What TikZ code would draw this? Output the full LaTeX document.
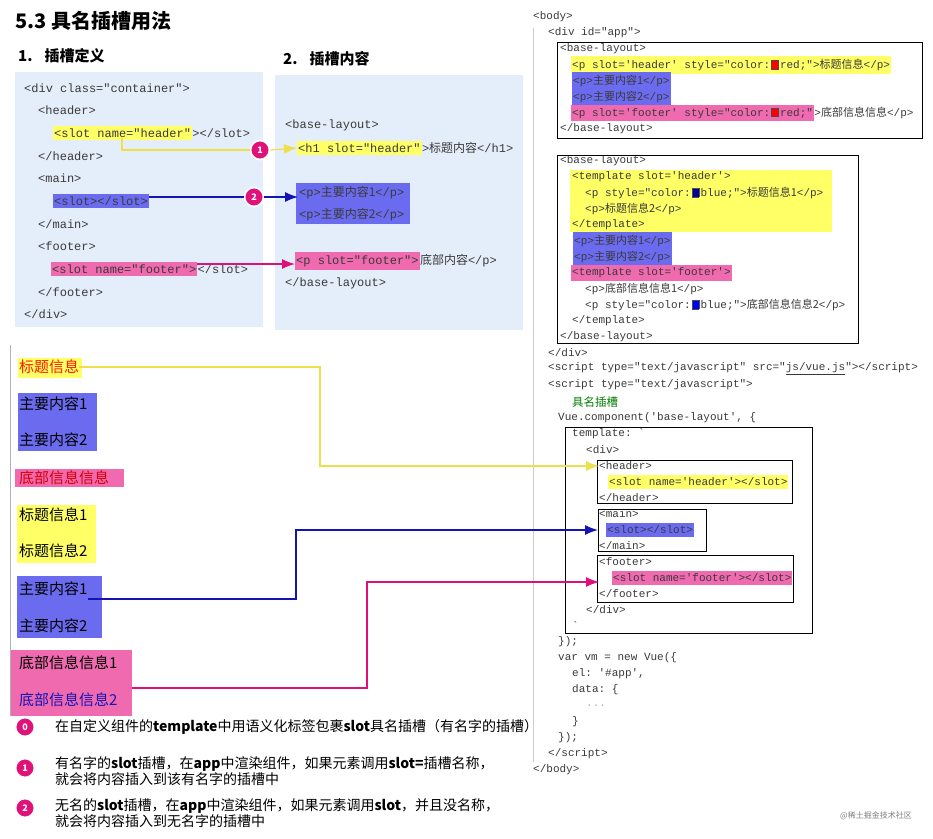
\documentclass[tikz,border=0pt]{standalone}
\usepackage{fontspec}
\setmainfont{Noto Sans CJK SC}
\setmonofont{Liberation Mono}
\usetikzlibrary{arrows.meta}
\newcommand\zz[1]{{\rmfamily #1}}
\newcommand\sq[1]{\hspace{1pt}{\setlength\fboxsep{0pt}\setlength\fboxrule{0.4pt}\fcolorbox{black!70}{#1}{\rule{0pt}{8pt}\hspace{6.5pt}}}\hspace{1.5pt}}
\definecolor{hy}{HTML}{FFFF66}
\definecolor{hb}{HTML}{6B6BF0}
\definecolor{hp}{HTML}{F06AB0}
\definecolor{panel}{HTML}{E4EDFA}
\definecolor{codec}{HTML}{3A3A3A}
\definecolor{ay}{HTML}{EEE04A}
\definecolor{ab}{HTML}{1414B4}
\definecolor{ap}{HTML}{E0107A}
\definecolor{badge}{HTML}{E0127A}
\tikzset{
 code/.style={anchor=west,inner sep=0pt,font=\ttfamily\fontsize{11}{11}\selectfont,text=codec},
 lcode/.style={anchor=west,inner sep=0pt,font=\ttfamily\fontsize{12}{12}\selectfont,text=codec},
 hl/.style={fill=#1,inner xsep=1pt,inner ysep=3pt},
 badgec/.style={circle,fill=badge,draw=white,line width=1.8pt,text=white,font=\bfseries\fontsize{9}{9}\selectfont,minimum size=19pt,inner sep=0pt},
 item/.style={anchor=west,inner sep=0pt,font=\fontsize{15}{15}\selectfont},
 note/.style={anchor=west,inner sep=0pt,font=\fontsize{14}{16}\selectfont,align=left},
 frame/.style={draw=black,line width=1pt},
 conn/.style={line width=1.2pt},
 tip/.style={-{Latex[length=13pt,width=10pt]}}
}
\begin{document}
\begin{tikzpicture}[x=1pt,y=-1pt]
\useasboundingbox (0,0) rectangle (933,838);
\fill[white] (0,0) rectangle (933,838);
% titles
\node[anchor=west,inner sep=0pt,font=\bfseries\fontsize{20}{20}\selectfont] (title) at (15,21) {5.3 具名插槽用法};
\node[anchor=west,inner sep=0pt,font=\bfseries\fontsize{15}{15}\selectfont] (t1) at (18,56) {1.\hspace{12pt}插槽定义};
\node[anchor=west,inner sep=0pt,font=\bfseries\fontsize{15}{15}\selectfont] (t2) at (283,59) {2.\hspace{12pt}插槽内容};
% panels
\fill[panel] (15,72) rectangle (263,327);
\fill[panel] (275,75) rectangle (523,330);
% left panel code
\node[lcode] (l1) at (24,88) {<div class="container">};
\node[lcode] (l2) at (38,110) {<header>};
\node[lcode,hl=hy] (l3a) at (53,133) {<slot name="header"};
\node[lcode,anchor=west] (l3b) at (l3a.east) {></slot>};
\node[lcode] (l4) at (38,156) {</header>};
\node[lcode] (l5) at (38,178) {<main>};
\node[lcode,hl=hb] (l6) at (53,201) {<slot></slot>};
\node[lcode] (l7) at (38,224) {</main>};
\node[lcode] (l8) at (38,246) {<footer>};
\node[lcode,hl=hp] (l9a) at (51,269) {<slot name="footer">};
\node[lcode,anchor=west] (l9b) at (l9a.east) {</slot>};
\node[lcode] (l10) at (38,292) {</footer>};
\node[lcode] (l11) at (24,314) {</div>};
% right panel code
\node[lcode] (r1) at (285,125) {<base-layout>};
\node[lcode,hl=hy] (r2a) at (297,148) {<h1 slot="header"};
\node[lcode] (r2b) at (r2a.east) {>\zz{标题内容}</h1>};
\fill[hb] (296,183) rectangle (410,224);
\node[lcode] (r3) at (299,193) {<p>\zz{主要内容1}</p>};
\node[lcode] (r4) at (299,215) {<p>\zz{主要内容2}</p>};
\node[lcode,hl=hp] (r5a) at (295,261) {<p slot="footer">};
\node[lcode] (r5b) at (r5a.east) {\zz{底部内容}</p>};
\node[lcode] (r6) at (285,283) {</base-layout>};
% top connectors
\node[badgec] (b1) at (260,150) {1};
\node[badgec] (b2) at (254,197) {2};
\draw[ay,conn] (122,138) |- (b1.west);
\draw[ay,conn,tip] (b1.east) -- (r2a.west);
\draw[ab,conn] (l6.east |- b2.west) -- (b2.west);
\draw[ab,conn,tip] (b2.east) -- (298,197);
\draw[ap,conn,tip] (l9a.east |- 0,264) -- (r5a.west |- 0,264);
% lower-left rendered output
\draw[gray!60,line width=0.8pt] (10,345) -- (10,716);
\fill[hy] (18,358) rectangle (82,378);
\node[item,text=red!80!orange] (o1) at (19,367) {标题信息};
\fill[hb] (18,393) rectangle (97,451);
\node[item] (o2) at (19,404) {主要内容1};
\node[item] (o3) at (19,440) {主要内容2};
\fill[hp] (15,469) rectangle (124,487);
\node[item,text=red!85!black] (o4) at (19,478) {底部信息信息};
\fill[hy] (17,505) rectangle (96,563);
\node[item] (o5) at (19,515) {标题信息1};
\node[item] (o6) at (19,551) {标题信息2};
\fill[hb] (17,576) rectangle (102,638);
\node[item] (o7) at (19,589) {主要内容1};
\node[item] (o8) at (19,626) {主要内容2};
\fill[hp] (11,650) rectangle (132,716);
\node[item] (o9) at (19,663) {底部信息信息1};
\node[item,text=ab] (o10) at (19,700) {底部信息信息2};
% code panel on the right
\draw[gray!40,line width=0.6pt] (533,28) -- (533,762);
\node[code] (c1) at (533,17) {<body>};
\node[code] (c2) at (548,33) {<div id="app">};
\node[code] (c3) at (560,49) {<base-layout>};
\node[code,hl=hy] (c4) at (571,65) {<p slot='header' style="color:\sq{red}red;">\zz{标题信息}</p>};
\node[code,hl=hb] (c5) at (572,81) {<p>\zz{主要内容1}</p>};
\node[code,hl=hb] (c6) at (572,97) {<p>\zz{主要内容2}</p>};
\node[code,hl=hp] (c7a) at (571,113) {<p slot='footer' style="color:\sq{red}red;"};
\node[code] (c7b) at (c7a.east) {>\zz{底部信息信息}</p>};
\node[code] (c8) at (560,129) {</base-layout>};
\draw[frame] (557,42) rectangle (922,138);
\fill[hy] (570,170) rectangle (832,232);
\node[code] (d1) at (560,161) {<base-layout>};
\node[code] (d2) at (572,177) {<template slot='header'>};
\node[code] (d3) at (585,193) {<p style="color:\sq{blue!60!black}blue;">\zz{标题信息1}</p>};
\node[code] (d4) at (585,209) {<p>\zz{标题信息2}</p>};
\node[code] (d5) at (572,225) {</template>};
\node[code,hl=hb] (d6) at (573,241) {<p>\zz{主要内容1}</p>};
\node[code,hl=hb] (d7) at (573,257) {<p>\zz{主要内容2}</p>};
\node[code,hl=hp] (d8) at (571,273) {<template slot='footer'>};
\node[code] (d9) at (585,289) {<p>\zz{底部信息信息1}</p>};
\node[code] (d10) at (585,305) {<p style="color:\sq{blue}blue;">\zz{底部信息信息2}</p>};
\node[code] (d11) at (572,321) {</template>};
\node[code] (d12) at (560,337) {</base-layout>};
\draw[frame] (557,155) rectangle (858,343);
\node[code] (e1) at (548,353) {</div>};
\node[code] (e2) at (548,369) {<script type="text/javascript" src="\underline{js/vue.js}"></script>};
\node[code] (e3) at (548,385) {<script type="text/javascript">};
\node[anchor=west,inner sep=0pt,font=\fontsize{11.5}{11.5}\selectfont,text=green!50!black] (e4) at (572,402) {具名插槽};
\node[code] (e5) at (558,418) {Vue.component('base-layout', \{};
\node[code] (f1) at (572,434) {template: `};
\node[code] (f2) at (586,450) {<div>};
\node[code] (g1) at (599,466) {<header>};
\node[code,hl=hy] (g2) at (608,482) {<slot name='header'></slot>};
\node[code] (g3) at (599,498) {</header>};
\draw[frame] (597,460) rectangle (792,503);
\node[code] (h1) at (599,514) {<main>};
\node[code,hl=hb] (h2) at (606,530) {<slot></slot>};
\node[code] (h3) at (599,546) {</main>};
\draw[frame] (598,509) rectangle (706,551);
\node[code] (k1) at (599,562) {<footer>};
\node[code,hl=hp] (k2) at (612,578) {<slot name='footer'></slot>};
\node[code] (k3) at (599,594) {</footer>};
\draw[frame] (597,555) rectangle (793,602);
\node[code] (f3) at (586,610) {</div>};
\node[code] (f4) at (572,626) {`};
\draw[frame] (565,427) rectangle (812,633);
\node[code] (m1) at (558,642) {\});};
\node[code] (m2) at (558,658) {var vm = new Vue(\{};
\node[code] (m3) at (572,674) {el: '\#app',};
\node[code] (m4) at (572,690) {data: \{};
\node[code,text=gray!60] (m5) at (586,706) {...};
\node[code] (m6) at (572,722) {\}};
\node[code] (m7) at (558,738) {\});};
\node[code] (m8) at (548,754) {</script>};
\node[code] (m9) at (533,770) {</body>};
% long connectors
\draw[ay,conn,tip] (o1.east) -- (320,367) |- (g1.west);
\draw[ab,conn,tip] (o7.east |- 0,599) -- (296,599) |- (h2.west -| 598,524);
\draw[ap,conn,tip] (132,688) -- (367,688) |- (599,582);
% notes
\node[badgec] (n0) at (25,727) {0};
\node[badgec] (n1) at (25,768) {1};
\node[badgec] (n2) at (25,808) {2};
\node[note] (p0) at (55,727) {在自定义组件的\textbf{template}中用语义化标签包裹\textbf{slot}具名插槽（有名字的插槽）};
\node[note] (p1) at (55,771) {有名字的\textbf{slot}插槽，在\textbf{app}中渲染组件，如果元素调用\textbf{slot=}插槽名称，\\就会将内容插入到该有名字的插槽中};
\node[note] (p2) at (55,813) {无名的\textbf{slot}插槽，在\textbf{app}中渲染组件，如果元素调用\textbf{slot}，并且没名称，\\就会将内容插入到无名字的插槽中};
\node[anchor=west,inner sep=0pt,font=\fontsize{8}{8}\selectfont,text=gray] (wm) at (840,816) {@稀土掘金技术社区};
\end{tikzpicture}
\end{document}
